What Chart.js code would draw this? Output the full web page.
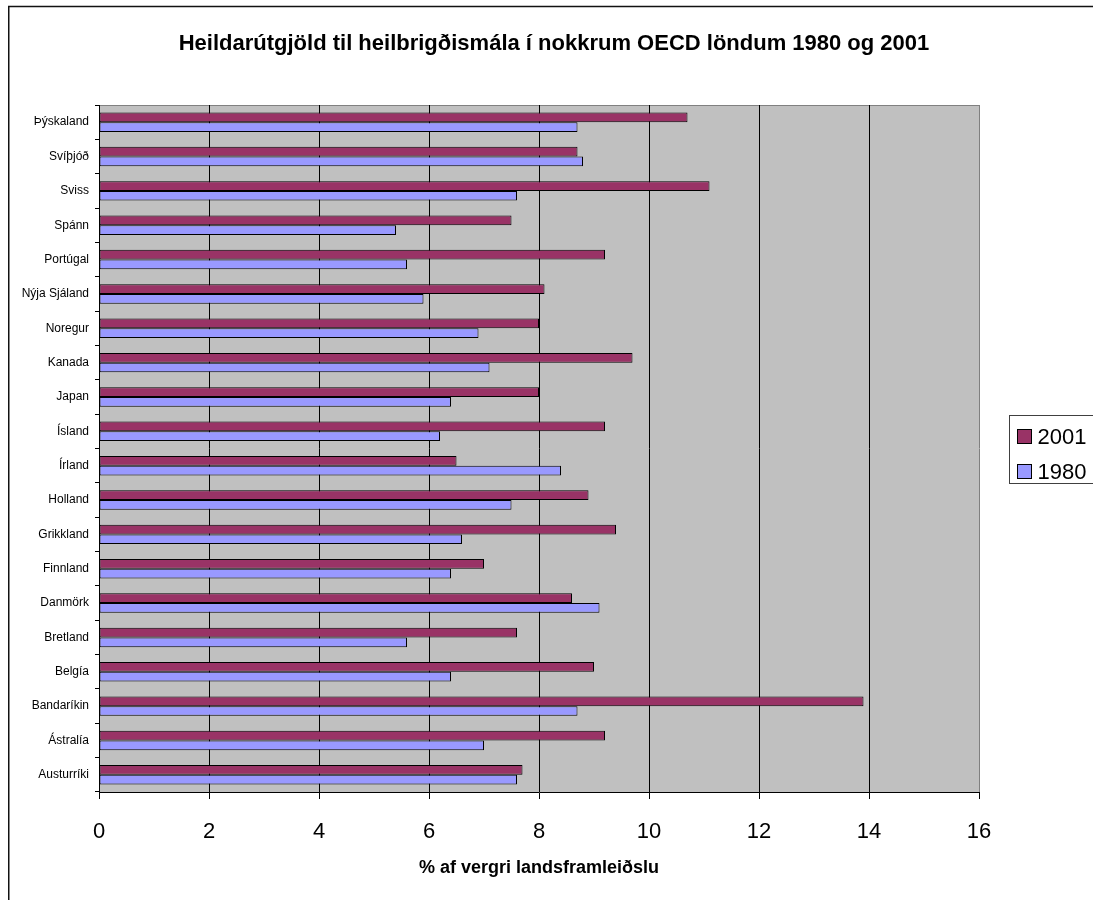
<!DOCTYPE html>
<html>
<head>
<meta charset="utf-8">
<script src="https://cdn.jsdelivr.net/npm/chart.js@4.4.1/dist/chart.umd.min.js"></script>
<style>
  html, body { margin: 0; padding: 0; background: #fff; overflow: hidden; }
  canvas { display: block; }
</style>
</head>
<body>
<canvas id="chart" width="1093" height="900"></canvas>
<script>
// Countries, top to bottom
const categories = [
  'Þýskaland', 'Svíþjóð', 'Sviss', 'Spánn', 'Portúgal', 'Nýja Sjáland', 'Noregur',
  'Kanada', 'Japan', 'Ísland', 'Írland', 'Holland', 'Grikkland', 'Finnland',
  'Danmörk', 'Bretland', 'Belgía', 'Bandaríkin', 'Ástralía', 'Austurríki'
];
// Health expenditure, % of GDP
const values2001 = [10.7, 8.7, 11.1, 7.5, 9.2, 8.1, 8.0, 9.7, 8.0, 9.2, 6.5, 8.9, 9.4, 7.0, 8.6, 7.6, 9.0, 13.9, 9.2, 7.7];
const values1980 = [8.7, 8.8, 7.6, 5.4, 5.6, 5.9, 6.9, 7.1, 6.4, 6.2, 8.4, 7.5, 6.6, 6.4, 9.1, 5.6, 6.4, 8.7, 7.0, 7.6];
const seriesNames = ['2001', '1980'];
const xTickValues = [0, 2, 4, 6, 8, 10, 12, 14, 16];
const chartTitle = 'Heildarútgjöld til heilbrigðismála í nokkrum OECD löndum 1980 og 2001';
const xAxisTitle = '% af vergri landsframleiðslu';

const FONT = "'Liberation Sans', Arial, sans-serif";
const COLORS = ['#993366', '#9999FF'];

// Grey plot area, its top edge and the outer frame of the figure
const plotBackground = {
  id: 'plotBackground',
  beforeDraw(chart) {
    const { ctx, chartArea: a } = chart;
    ctx.save();
    ctx.fillStyle = '#fff';
    ctx.fillRect(0, 0, chart.width, chart.height);
    ctx.fillStyle = '#C0C0C0';
    ctx.fillRect(a.left, a.top, a.right - a.left, a.bottom - a.top);
    ctx.strokeStyle = '#808080';
    ctx.lineWidth = 1;
    ctx.beginPath();
    const ty = Math.round(a.top) + 0.5;
    ctx.moveTo(a.left, ty);
    ctx.lineTo(a.right, ty);
    ctx.stroke();
    ctx.strokeStyle = '#111';
    ctx.lineWidth = 1.5;
    ctx.beginPath();
    ctx.moveTo(8.75, chart.height);
    ctx.lineTo(8.75, 6.5);
    ctx.lineTo(chart.width, 6.5);
    ctx.stroke();
    ctx.restore();
  }
};

// Framed legend to the right of the plot
const boxedLegend = {
  id: 'boxedLegend',
  afterDraw(chart) {
    const { ctx, chartArea: a } = chart;
    const left = Math.round(a.right) + 30.5;
    const top = Math.round((a.top + a.bottom) / 2 - 34) + 0.5;
    ctx.save();
    ctx.strokeStyle = '#404040';
    ctx.lineWidth = 1;
    ctx.strokeRect(left, top, chart.width + 10 - left, 68);
    ctx.font = '22px ' + FONT;
    ctx.textBaseline = 'middle';
    ctx.textAlign = 'left';
    chart.data.datasets.forEach((ds, i) => {
      const cy = top + 21 + i * 35;
      ctx.fillStyle = ds.backgroundColor;
      ctx.fillRect(left + 8, cy - 7, 14, 14);
      ctx.strokeStyle = '#000';
      ctx.strokeRect(left + 8, cy - 7, 14, 14);
      ctx.fillStyle = '#000';
      ctx.fillText(ds.label, left + 28, cy + 1);
    });
    ctx.restore();
  }
};

new Chart(document.getElementById('chart'), {
  type: 'bar',
  data: {
    labels: categories,
    datasets: [
      { label: seriesNames[0], data: values2001, backgroundColor: COLORS[0], yAxisID: 'y', xAxisID: 'x' },
      { label: seriesNames[1], data: values1980, backgroundColor: COLORS[1], yAxisID: 'y', xAxisID: 'x' }
    ]
  },
  options: {
    indexAxis: 'y',
    responsive: false,
    animation: false,
    devicePixelRatio: 1,
    layout: { padding: { left: 15, right: 0, top: 0, bottom: 0 } },
    datasets: {
      bar: {
        categoryPercentage: 0.565,
        barPercentage: 1.0,
        borderColor: '#000',
        borderWidth: 1,
        borderSkipped: false
      }
    },
    plugins: {
      legend: { display: false },
      tooltip: { enabled: false },
      title: {
        display: true,
        text: chartTitle,
        color: '#000',
        font: { family: FONT, size: 22, weight: 'bold' },
        padding: { top: 31, bottom: 47.6 }
      }
    },
    scales: {
      x: {
        type: 'linear',
        position: 'bottom',
        min: xTickValues[0],
        max: xTickValues[xTickValues.length - 1],
        afterBuildTicks(scale) {
          scale.ticks = xTickValues.map(v => ({ value: v }));
        },
        afterFit(scale) { scale.height = 108; },
        grid: {
          color: c => (c.tick && c.tick.value === xTickValues[xTickValues.length - 1]) ? '#808080' : '#000',
          tickColor: '#000',
          lineWidth: 1,
          tickLength: 7,
          drawOnChartArea: true
        },
        border: { display: true, color: '#000', width: 1 },
        ticks: {
          color: '#000',
          font: { family: FONT, size: 22 },
          padding: 20,
          maxRotation: 0
        },
        title: {
          display: true,
          text: xAxisTitle,
          color: '#000',
          font: { family: FONT, size: 18, weight: 'bold' },
          padding: { top: 0, bottom: 21.2 }
        }
      },
      y: {
        type: 'category',
        position: 'left',
        afterFit(scale) { scale.width = 84; },
        grid: {
          offset: true,
          drawOnChartArea: false,
          drawTicks: true,
          tickLength: 4,
          color: '#000'
        },
        border: { display: true, color: '#000', width: 1 },
        ticks: {
          color: '#000',
          font: { family: FONT, size: 12 },
          padding: 6,
          autoSkip: false
        }
      },
      yLegendSpace: {
        axis: 'y',
        type: 'category',
        position: 'right',
        display: true,
        afterFit(scale) { scale.width = 114; },
        grid: { display: false },
        border: { display: false },
        ticks: { display: false }
      }
    }
  },
  plugins: [plotBackground, boxedLegend]
});
</script>
</body>
</html>
